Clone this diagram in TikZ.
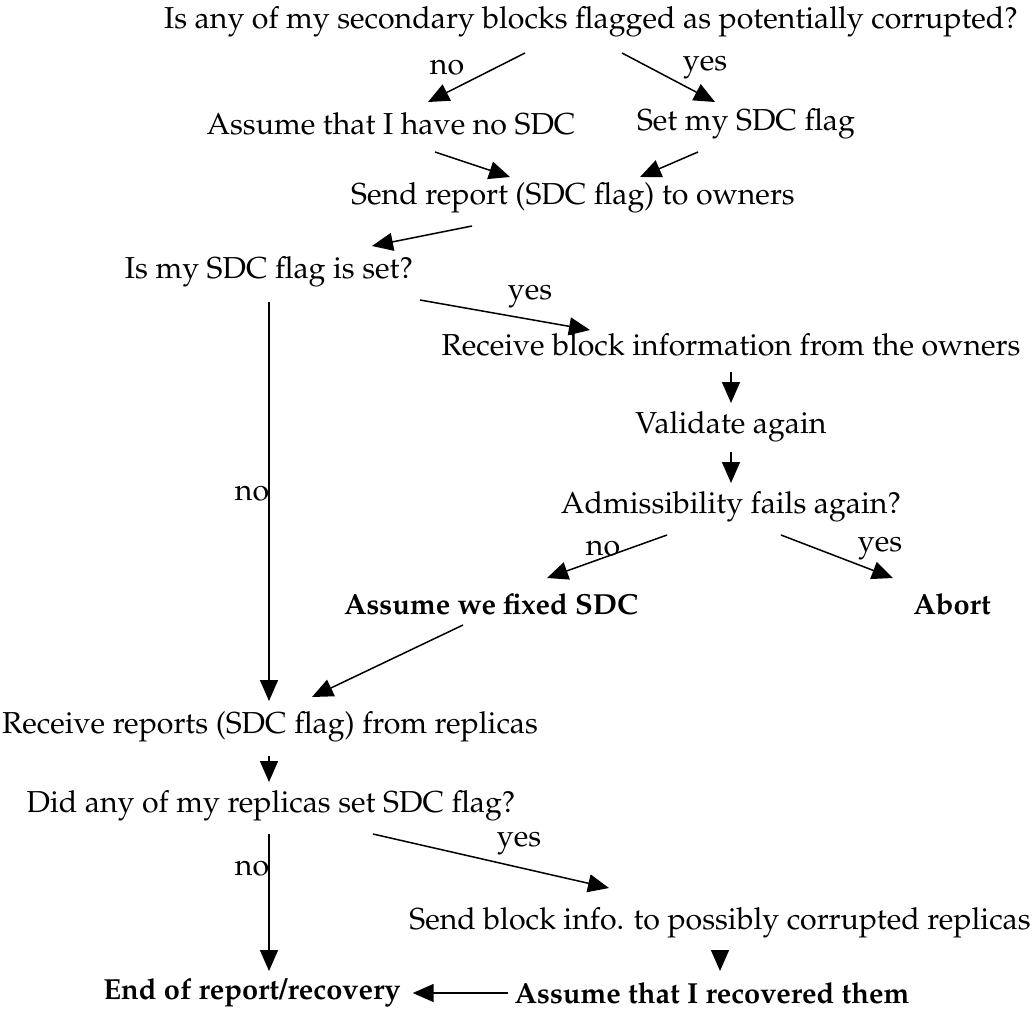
\documentclass[tikz,border=0pt]{standalone}
\usepackage[T1]{fontenc}
\usepackage{mathpazo}
\usetikzlibrary{arrows.meta}
\begin{document}
\begin{tikzpicture}[x=1pt,y=-1pt,
  txt/.style={inner sep=0pt, font=\fontsize{30.3}{36}\selectfont},
  bftxt/.style={inner sep=0pt, font=\fontsize{29}{34}\selectfont\bfseries},
  arr/.style={-{Triangle[length=21pt,width=18pt]}, line width=1.5pt}]
\useasboundingbox (0,0) rectangle (1032,1012);

% steps and questions
\node[txt] (q1) at (591,22) {Is any of my secondary blocks flagged as potentially corrupted?};
\node[txt] (nosdc) at (391,124) {Assume that I have no SDC};
\node[txt] (setflag) at (746,124) {Set my SDC flag};
\node[txt] (send) at (573,198) {Send report (SDC flag) to owners};
\node[txt] (isset) at (269,272) {Is my SDC flag is set?};
\node[txt] (recv) at (731,345) {Receive block information from the owners};
\node[txt] (valid) at (731,427) {Validate again};
\node[txt] (adm) at (731,507) {Admissibility fails again?};
\node[bftxt] (fixed) at (491,604) {Assume we fixed SDC};
\node[bftxt] (abort) at (952,604) {Abort};
\node[txt] (rrep) at (270,727) {Receive reports (SDC flag) from replicas};
\node[txt] (did) at (271,806) {Did any of my replicas set SDC flag?};
\node[txt] (sendinfo) at (720,923) {Send block info. to possibly corrupted replicas};
\node[bftxt] (recov) at (712,993) {Assume that I recovered them};
\node[bftxt] (endn) at (252,993) {End of report/recovery};

% branch labels
\node[txt] (l1) at (447,67) {no};
\node[txt] (l2) at (705,67) {yes};
\node[txt] (l3) at (530,296) {yes};
\node[txt] (l4) at (252,493) {no};
\node[txt] (l5) at (603,548) {no};
\node[txt] (l6) at (880,548) {yes};
\node[txt] (l7) at (252,868) {no};
\node[txt] (l8) at (519,843) {yes};

% connectors
\draw[arr] ([shift={(-66,31)}]q1.center) -- ([shift={(37,-22)}]nosdc.center);
\draw[arr] ([shift={(31,31)}]q1.center) -- ([shift={(-31,-22)}]setflag.center);
\draw[arr] ([shift={(44,28)}]nosdc.center) -- ([shift={(-63,-21)}]send.center);
\draw[arr] ([shift={(-48,28)}]setflag.center) -- ([shift={(67,-21)}]send.center);
\draw[arr] ([shift={(-101,28)}]send.center) -- ([shift={(103,-26)}]isset.center);
\draw[arr] ([shift={(151,28)}]isset.center) -- ([shift={(-141,-15)}]recv.center);
\draw[arr] ([shift={(0,27)}]recv.center) -- ([shift={(0,-24)}]valid.center);
\draw[arr] ([shift={(0,25)}]valid.center) -- ([shift={(0,-24)}]adm.center);
\draw[arr] ([shift={(-64,28)}]adm.center) -- ([shift={(56,-26)}]fixed.center);
\draw[arr] ([shift={(50,28)}]adm.center) -- ([shift={(-59,-26)}]abort.center);
\draw[arr] ([shift={(-28,21)}]fixed.center) -- ([shift={(42,-30)}]rrep.center);
\draw[arr] ([shift={(0,30)}]isset.center) -- ([shift={(-1,-26)}]rrep.center);
\draw[arr] ([shift={(-1,29)}]rrep.center) -- ([shift={(-2,-24)}]did.center);
\draw[arr] ([shift={(-2,28)}]did.center) -- ([shift={(17,-22)}]endn.center);
\draw[arr] ([shift={(102,28)}]did.center) -- ([shift={(-111,-35)}]sendinfo.center);
\draw[arr] ([shift={(0,32)}]sendinfo.center) -- ([shift={(8,-22)}]recov.center);
\draw[arr] ([xshift=-6pt]recov.west) -- ([xshift=12pt]endn.east);
\end{tikzpicture}
\end{document}
